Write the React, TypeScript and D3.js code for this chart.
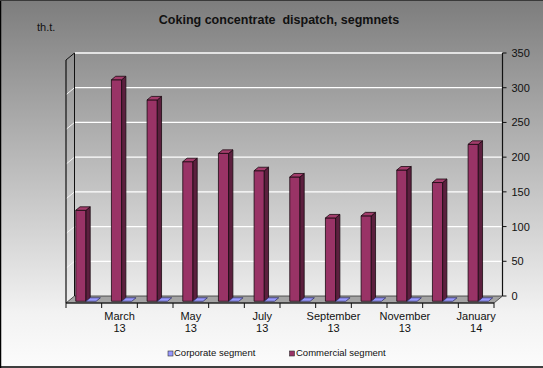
import React from "react";
import * as d3 from "d3";

const categories = ["February 13","March 13","April 13","May 13","June 13","July 13","August 13","September 13","October 13","November 13","December 13","January 14"];
const commercial = [131, 319, 290, 201, 213, 188, 179, 120, 123, 189, 171, 226];
const corporate = [0, 0, 0, 0, 0, 0, 0, 0, 0, 0, 0, 0];
const yTicks = [0, 50, 100, 150, 200, 250, 300, 350];
const seriesNames = ["Corporate segment", "Commercial segment"];
const seriesColors = ["#9999ff", "#993366"];

const W = 543, H = 368;
const FX0 = 66, FX1 = 494, FY0 = 303, FY1 = 60;
const DX = 8.5, DY = -7;
const FONT = "'Liberation Sans', Arial, sans-serif";

export default function App() {
  const x = d3.scaleBand<string>().domain(categories).range([FX0, FX1]).paddingInner(0).paddingOuter(0);
  const y = d3.scaleLinear().domain([0, 350]).range([FY0, FY1]);
  const w = x.bandwidth();
  const b = w / 3.5;
  const P = (px: number, v: number, d: number) => [px + DX * d, y(v) + DY * d];
  const pts = (arr: number[][]) => arr.map(p => p.join(",")).join(" ");

  const bars: React.ReactNode[] = [];
  categories.forEach((c, i) => {
    const vals = [commercial[i], corporate[i]];
    const cols = [seriesColors[1], seriesColors[0]];
    const sides = ["#5c1f3e", "#5c5cb0"];
    const tops = ["#a33d6c", "#9999ff"];
    vals.forEach((v, s) => {
      const xl = (x(c) as number) + 0.75 * b + s * b;
      const xr = xl + b;
      const d0 = 0.25, d1 = 0.75;
      const front = [P(xl, 0, d0), P(xr, 0, d0), P(xr, v, d0), P(xl, v, d0)];
      const side = [P(xr, 0, d0), P(xr, 0, d1), P(xr, v, d1), P(xr, v, d0)];
      const top = [P(xl, v, d0), P(xr, v, d0), P(xr, v, d1), P(xl, v, d1)];
      bars.push(
        <g key={`${i}-${s}`} stroke="#1a0a12" strokeWidth={0.8} strokeLinejoin="round">
          {v > 0 && <polygon points={pts(front)} fill={cols[s]} />}
          {v > 0 && <polygon points={pts(side)} fill={sides[s]} />}
          <polygon points={pts(top)} fill={tops[s]} stroke={s === 1 ? "#333366" : "#1a0a12"} />
        </g>
      );
    });
  });

  const floor = [P(FX0, 0, 0), P(FX1, 0, 0), P(FX1, 0, 1), P(FX0, 0, 1)];

  return (
    <svg width={W} height={H} style={{ position: "absolute", left: 0, top: 0, display: "block" }} xmlns="http://www.w3.org/2000/svg">
      <defs>
        <linearGradient id="bg" x1="0" y1="0" x2="0" y2="1">
          <stop offset="0" stopColor="#7d7d7d" />
          <stop offset="0.5" stopColor="#c2c2c2" />
          <stop offset="0.85" stopColor="#f2f2f2" />
          <stop offset="1" stopColor="#fcfcfc" />
        </linearGradient>
      </defs>
      <rect x={0} y={0} width={W} height={H} fill="url(#bg)" />
      <line x1={0.5} y1={0} x2={0.5} y2={H} stroke="#000" strokeWidth={1.5} />
      <line x1={0} y1={0.5} x2={W} y2={0.5} stroke="#3a3a3a" strokeWidth={1} />
      <line x1={0} y1={H - 1} x2={W} y2={H - 1} stroke="#000" strokeWidth={1.5} />

      {/* title */}
      <text x={279} y={24} textAnchor="middle" fontFamily={FONT} fontWeight="bold" fontSize={12.5} fill="#111" style={{ whiteSpace: "pre" }}>
        Coking concentrate  dispatch, segmnets
      </text>
      <text x={37} y={31} fontFamily={FONT} fontSize={11} fill="#111">th.t.</text>

      {/* back wall gridlines */}
      {yTicks.map(t => {
        const a = P(FX0, t, 1), bb = P(FX1, t, 1), f = P(FX0, t, 0);
        return (
          <g key={t}>
            {t > 0 && <line x1={a[0]} y1={a[1]} x2={bb[0]} y2={bb[1]} stroke="#ffffff" strokeWidth={1.3} />}
            {t > 0 && <line x1={f[0]} y1={f[1]} x2={a[0]} y2={a[1]} stroke={t === 350 ? "#111" : "#f4f4f4"} strokeWidth={1} />}
          </g>
        );
      })}

      {/* floor */}
      <polygon points={pts(floor)} fill="#a4a4a4" stroke="#333" strokeWidth={0.8} />

      {/* left walls axes */}
      {(() => {
        const ft = P(FX0, 350, 0), fb = P(FX0, 0, 0), bt = P(FX0, 350, 1), bbm = P(FX0, 0, 1);
        const rt = P(FX1, 350, 1), rb = P(FX1, 0, 1);
        return (
          <g>
            <line x1={bt[0]} y1={bt[1]} x2={bbm[0]} y2={bbm[1]} stroke="#111" strokeWidth={1} />
            <line x1={ft[0]} y1={ft[1]} x2={fb[0]} y2={fb[1]} stroke="#111" strokeWidth={1.2} />
            <line x1={rt[0]} y1={rt[1]} x2={rb[0]} y2={rb[1]} stroke="#111" strokeWidth={1.2} />
          </g>
        );
      })()}

      {bars}

      {/* right axis ticks & labels */}
      {yTicks.map(t => {
        const p = P(FX1, t, 1);
        return (
          <g key={"r" + t}>
            <line x1={p[0]} y1={p[1]} x2={p[0] + 4} y2={p[1]} stroke="#111" strokeWidth={1} />
            <text x={p[0] + 9} y={p[1] + 4} fontFamily={FONT} fontSize={11} fill="#111">{t}</text>
          </g>
        );
      })}

      {/* bottom axis */}
      <line x1={FX0} y1={FY0} x2={FX1} y2={FY0} stroke="#111" strokeWidth={1.2} />
      {d3.range(categories.length + 1).map(i => {
        const px = FX0 + i * w;
        return <line key={"t" + i} x1={px} y1={FY0} x2={px} y2={FY0 + 5} stroke="#111" strokeWidth={1} />;
      })}
      {categories.map((c, i) => {
        if (i % 2 === 0) return null;
        const [m, yr] = c.split(" ");
        const cx = (x(c) as number) + w / 2;
        return (
          <text key={"l" + i} x={cx} textAnchor="middle" fontFamily={FONT} fontSize={11} fill="#111">
            <tspan x={cx} y={320}>{m}</tspan>
            <tspan x={cx} y={332}>{yr}</tspan>
          </text>
        );
      })}

      {/* legend */}
      <g fontFamily={FONT} fontSize={9.5} fill="#111">
        <rect x={168} y={351} width={5} height={5} fill={seriesColors[0]} stroke="#333" strokeWidth={0.6} />
        <text x={174} y={356}>{seriesNames[0]}</text>
        <rect x={289.5} y={351} width={5} height={5} fill={seriesColors[1]} stroke="#333" strokeWidth={0.6} />
        <text x={296} y={356}>{seriesNames[1]}</text>
      </g>
    </svg>
  );
}
